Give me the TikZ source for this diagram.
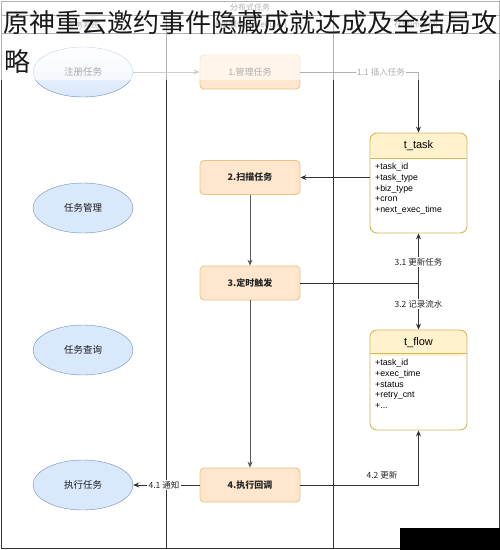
\documentclass[tikz,border=0pt]{standalone}
\usepackage{fontspec}
\setmainfont{Liberation Sans}
\newfontfamily\cjk{Noto Sans CJK SC}
\usetikzlibrary{arrows.meta,shapes.geometric}
\definecolor{elfill}{HTML}{DAE8FC}
\definecolor{eldraw}{HTML}{6C8EBF}
\definecolor{bxfill}{HTML}{FFE6CC}
\definecolor{bxdraw}{HTML}{E3C486}
\definecolor{hdfill}{HTML}{FFF2CC}
\definecolor{hddraw}{HTML}{D6B656}
\definecolor{lncol}{HTML}{333333}
\tikzset{
  lane/.style={draw=lncol, line width=0.9pt},
  ell/.style={ellipse, draw=eldraw, fill=elfill, minimum width=100pt, minimum height=50pt, inner sep=0pt, font=\cjk\fontsize{9.5}{10}\selectfont, text=black!90},
  stepbox/.style={draw=bxdraw, fill=bxfill, rounded corners=4pt, minimum width=100pt, minimum height=34pt, inner sep=0pt, line width=0.8pt, font=\cjk\bfseries\fontsize{9}{10}\selectfont, text=black!85},
  tbl/.style={draw=hddraw, fill=white, rounded corners=7pt, minimum width=97pt, minimum height=100pt, inner sep=0pt, line width=0.9pt,
    path picture={\fill[hdfill] (path picture bounding box.north west) rectangle ([yshift=-26pt]path picture bounding box.north east);}},
  ttl/.style={font=\fontsize{11}{12}\selectfont, inner sep=0pt},
  fields/.style={anchor=north west, align=left, inner sep=0pt, font=\fontsize{8.8}{10.8}\selectfont},
  conn/.style={draw=lncol, line width=0.8pt, -{Stealth[length=6pt,width=5pt]}},
  lbl/.style={fill=white, inner sep=1.5pt, font=\cjk\fontsize{8.5}{10}\selectfont, text=black!85},
  hdr/.style={font=\cjk\fontsize{8}{9}\selectfont, text=black!80, inner sep=0pt}
}
\begin{document}
\begin{tikzpicture}[x=1pt,y=-1pt]
\useasboundingbox (0,0) rectangle (500,550);
\fill[white] (0,0) rectangle (500,550);
% swimlane frame
\draw[lane] (1,1) rectangle (499,548);
\draw[lane] (1,15) -- (499,15);
\draw[lane] (1,33) -- (499,33);
\draw[lane] (166,15) -- (166,548);
\draw[lane] (333,15) -- (333,548);
\node[hdr] (pool) at (250,7) {分布式任务};
\node[hdr] (laneA) at (83,25) {业务系统};
\node[hdr] (laneB) at (250,25) {调度服务(scheduler)};
\node[hdr] (laneC) at (416,25) {存储(mysql)};
% ellipses
\node[ell, top color=white, bottom color=elfill, middle color=elfill!60] (reg) at (83,72) {注册任务};
\node[ell] (mgr) at (83,208) {任务管理};
\node[ell] (qry) at (83,350) {任务查询};
\node[ell] (exec) at (83,485) {执行任务};
% step boxes
\node[stepbox, font=\cjk\fontsize{9}{10}\selectfont] (s1) at (250,72) {1.管理任务};
\node[stepbox] (s2) at (250,177.5) {2.扫描任务};
\node[stepbox] (s3) at (250,283) {3.定时触发};
\node[stepbox] (s4) at (250,485) {4.执行回调};
% tables
\node[tbl] (ttask) at (418.5,183) {};
\draw[hddraw, line width=0.9pt] ([yshift=-26pt]ttask.north west) -- ([yshift=-26pt]ttask.north east);
\node[ttl] (ttaskT) at (418.5,146) {t\_task};
\node[fields] (ttaskF) at (375,163) {+task\_id\\+task\_type\\+biz\_type\\+cron\\+next\_exec\_time};
\node[tbl, minimum height=100pt] (tflow) at (418.5,380) {};
\draw[hddraw, line width=0.9pt] ([yshift=-24pt]tflow.north west) -- ([yshift=-24pt]tflow.north east);
\node[ttl] (tflowT) at (418.5,343) {t\_flow};
\node[fields] (tflowF) at (375,359) {+task\_id\\+exec\_time\\+status\\+retry\_cnt\\+...};
% connectors
\draw[conn, draw=gray] (reg) -- (s1);
\draw[conn] (s1.east) -- (s1.east -| ttask.north) -- (ttask.north);
\node[lbl] (l11) at (381,72) {1.1 插入任务};
\draw[conn] (ttask.west |- s2.east) -- (s2.east);
\draw[conn, draw=black!65] (s2) -- (s3);
\draw[conn] (s3.east) -- (s3.east -| ttask.south) -- (ttask.south);
\draw[conn] (s3.east -| tflow.north) -- (tflow.north);
\node[lbl] (l31) at (418.5,262) {3.1 更新任务};
\node[lbl] (l32) at (418.5,304) {3.2 记录流水};
\draw[conn, draw=black!65] (s3) -- (s4);
\draw[conn] (s4) -- (exec);
\node[lbl] (l41) at (164,485) {4.1 通知};
\draw[conn] (s4.east) -- (s4.east -| tflow.south) -- (tflow.south);
\node[lbl, fill=none] (l42) at (382,475) {4.2 更新};
% watermark block
\fill[black] (400,528) rectangle (500,550);
% faded overlay and title
\fill[white, opacity=0.62] (0,0) rectangle (500,80);
\node[anchor=west, inner sep=0pt, font=\cjk\fontsize{26}{26}\selectfont, text=black!90] (title1) at (3,23) {原神重云邀约事件隐藏成就达成及全结局攻};
\node[anchor=west, inner sep=0pt, font=\cjk\fontsize{26}{26}\selectfont, text=black!90] (title2) at (4,61) {略};
\end{tikzpicture}
\end{document}
